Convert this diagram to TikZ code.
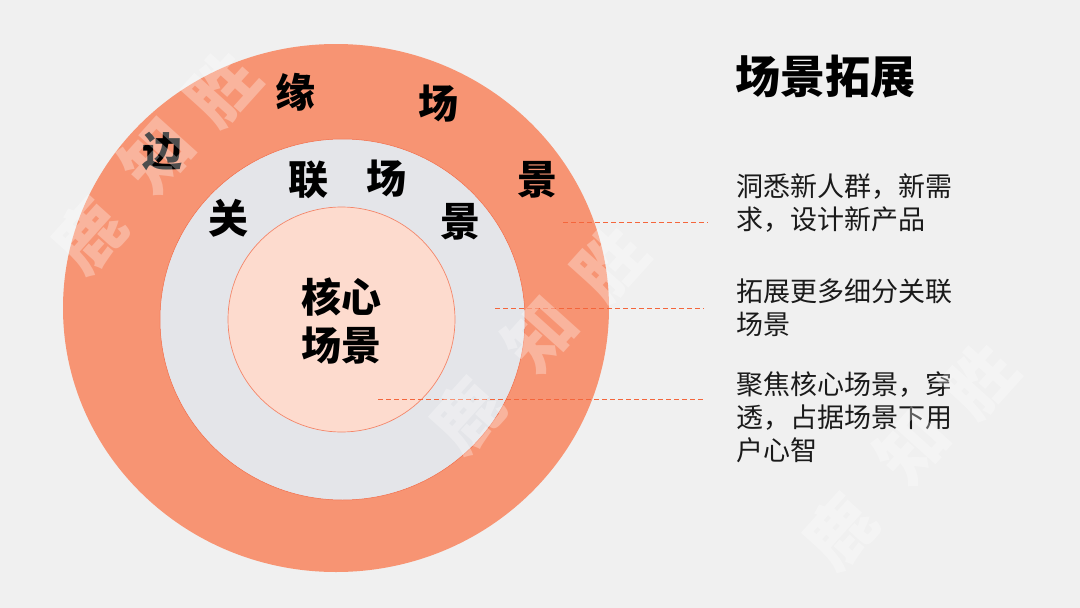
\documentclass[tikz,border=0pt]{standalone}
\usepackage{fontspec}
\setmainfont{Noto Sans CJK SC}
\definecolor{bgc}{HTML}{F0F0F0}
\definecolor{outerc}{HTML}{F79473}
\definecolor{grayc}{HTML}{E4E5E9}
\definecolor{innerc}{HTML}{FDDBCE}
\definecolor{innerline}{HTML}{F4866A}
\definecolor{ringline}{HTML}{F46A45}
\definecolor{leadc}{HTML}{F4663C}
\definecolor{bodyc}{HTML}{1A1A1A}
\tikzset{
  ringlabel/.style={font=\bfseries\fontsize{40}{48}\selectfont, inner sep=0pt, text=black},
  corelabel/.style={font=\bfseries\fontsize{40}{48}\selectfont, inner sep=0pt, align=center, text=black},
  titlelabel/.style={font=\bfseries\fontsize{45}{50}\selectfont, inner sep=0pt, anchor=base west, text=black},
  bodyline/.style={font=\fontsize{27}{33}\selectfont, anchor=base west, inner sep=0pt, text=bodyc},
  leadline/.style={draw=leadc, line width=0.8pt, dash pattern=on 5pt off 3pt},
  wm/.style={font=\bfseries\fontsize{68}{68}\selectfont, text=white, text opacity=0.3, rotate=48, inner sep=0pt},
}
\begin{document}
\begin{tikzpicture}[x=1pt,y=-1pt]
\useasboundingbox (0,0) rectangle (1080,608);
\fill[bgc] (0,0) rectangle (1080,608);

% rings
\fill[outerc] (336,308) ellipse [x radius=273, y radius=264];
\filldraw[fill=grayc, draw=ringline, line width=0.5pt] (342.5,319.5) ellipse [x radius=182.5, y radius=180.5];
\filldraw[fill=innerc, draw=innerline, line width=0.7pt] (341.5,319.5) ellipse [x radius=113.5, y radius=112.5];

% outer ring labels
\node[ringlabel] (o1) at (162,151) {边};
\node[ringlabel] (o2) at (295,92) {缘};
\node[ringlabel] (o3) at (438,104) {场};
\node[ringlabel] (o4) at (537,180) {景};

% middle ring labels
\node[ringlabel] (m1) at (228,218) {关};
\node[ringlabel] (m2) at (308,180) {联};
\node[ringlabel] (m3) at (386,179) {场};
\node[ringlabel] (m4) at (460,222) {景};

% core
\node[corelabel] (core) at (341,321) {核心\\场景};

% title
\node[titlelabel] (title) at (735,93) {场景拓展};

% descriptions
\node[bodyline] (d1a) at (736,196) {洞悉新人群，新需};
\node[bodyline] (d1b) at (736,229) {求，设计新产品};
\node[bodyline] (d2a) at (736,301) {拓展更多细分关联};
\node[bodyline] (d2b) at (736,334) {场景};
\node[bodyline] (d3a) at (736,394) {聚焦核心场景，穿};
\node[bodyline] (d3b) at (736,427) {透，占据场景下用};
\node[bodyline] (d3c) at (736,460) {户心智};

% leader lines
\coordinate (l1a) at (563,222); \coordinate (l1b) at (708,222);
\coordinate (l2a) at (495,308); \coordinate (l2b) at (704,308);
\coordinate (l3a) at (378,399); \coordinate (l3b) at (703,399);
\draw[leadline] (l1a) -- (l1b);
\draw[leadline] (l2a) -- (l2b);
\draw[leadline] (l3a) -- (l3b);

% watermarks
\node[wm] (w1a) at (89,236) {鹿};
\node[wm] (w1b) at (157,155) {知};
\node[wm] (w1c) at (222,88) {胜};
\node[wm] (w2a) at (467,416) {鹿};
\node[wm] (w2b) at (540,334) {知};
\node[wm] (w2c) at (610,263) {胜};
\node[wm] (w3a) at (840,532) {鹿};
\node[wm] (w3b) at (912,446) {知};
\node[wm] (w3c) at (980,380) {胜};
\end{tikzpicture}
\end{document}
